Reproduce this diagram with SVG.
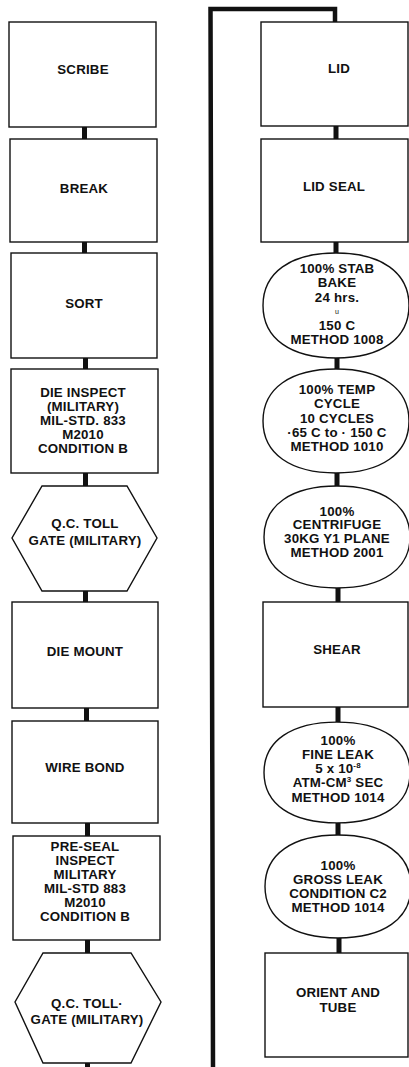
<svg xmlns="http://www.w3.org/2000/svg" width="409" height="1067" viewBox="0 0 409 1067">
<style>
.box{fill:#fff;stroke:#111;stroke-width:1.4}
.bar{fill:#111}
text{font-family:"Liberation Sans",Arial,sans-serif;font-weight:bold;font-size:13.3px;text-anchor:middle;fill:#111;letter-spacing:0.2px}
.tiny{font-size:7px;font-weight:normal}
.sup{font-size:8px}
</style>
<defs>
<path id="oval" d="M -73,0 C -73,-32.8 -45.3,-52 0,-52 C 45.3,-52 73,-32.8 73,0 C 73,32.8 45.3,52 0,52 C -45.3,52 -73,32.8 -73,0 Z"/>
</defs>
<rect width="409" height="1067" fill="#fff"/>
<g id="connectors">
<rect class="bar" x="82" y="127" width="5" height="12"/>
<rect class="bar" x="82" y="242" width="5" height="11"/>
<rect class="bar" x="83" y="358" width="5" height="11"/>
<rect class="bar" x="83" y="473" width="5" height="13"/>
<rect class="bar" x="83" y="591" width="5" height="11"/>
<rect class="bar" x="84" y="708" width="5" height="13"/>
<rect class="bar" x="85" y="823" width="5" height="13"/>
<rect class="bar" x="85" y="940" width="5" height="13"/>
<rect class="bar" x="85" y="1062" width="5" height="6"/>
<path d="M 213,1067 L 210.5,9 L 335,9 L 335,22" fill="none" stroke="#111" stroke-width="4.5"/>
<rect class="bar" x="333.5" y="126" width="5" height="13"/>
<rect class="bar" x="333.5" y="242" width="5" height="11"/>
<rect class="bar" x="334.5" y="358" width="5" height="11"/>
<rect class="bar" x="334.5" y="473" width="5" height="13"/>
<rect class="bar" x="335.5" y="588" width="5" height="14"/>
<rect class="bar" x="335.5" y="707" width="5" height="15"/>
<rect class="bar" x="335.5" y="823" width="5" height="12"/>
<rect class="bar" x="336.5" y="938" width="5" height="15"/>
</g>
<g id="scribe"><rect class="box" x="9" y="22" width="147" height="105"/><text x="83" y="74">SCRIBE</text></g>
<g id="break"><rect class="box" x="10" y="139" width="147" height="103"/><text x="84" y="193">BREAK</text></g>
<g id="sort"><rect class="box" x="11" y="253" width="146" height="105"/><text x="84" y="308">SORT</text></g>
<g id="die-inspect"><rect class="box" x="11" y="369" width="147" height="104"/>
<text x="83" y="397">DIE INSPECT</text><text x="83" y="411">(MILITARY)</text><text x="83" y="425">MIL-STD. 833</text><text x="83" y="439">M2010</text><text x="83" y="453">CONDITION B</text></g>
<g id="qc-toll-gate-1"><polygon class="box" points="42,486 127,486 157,538 127,591 42,591 12,538"/>
<text x="85" y="528">Q.C. TOLL</text><text x="85" y="545">GATE (MILITARY)</text></g>
<g id="die-mount"><rect class="box" x="12" y="602" width="146" height="106"/><text x="85" y="656">DIE MOUNT</text></g>
<g id="wire-bond"><rect class="box" x="12" y="721" width="146" height="102"/><text x="85" y="772">WIRE BOND</text></g>
<g id="pre-seal"><rect class="box" x="13" y="836" width="147" height="104"/>
<text x="85" y="851">PRE-SEAL</text><text x="85" y="865">INSPECT</text><text x="85" y="879">MILITARY</text><text x="85" y="893">MIL-STD 883</text><text x="85" y="907">M2010</text><text x="85" y="921">CONDITION B</text></g>
<g id="qc-toll-gate-2"><polygon class="box" points="43,953 131,953 161,1002 131,1063 43,1063 15,1002"/>
<text x="87" y="1008">Q.C. TOLL·</text><text x="87" y="1024">GATE (MILITARY)</text></g>
<g id="lid"><rect class="box" x="261" y="22" width="147" height="104"/><text x="339" y="73">LID</text></g>
<g id="lid-seal"><rect class="box" x="261" y="139" width="147" height="103"/><text x="334" y="191">LID SEAL</text></g>
<g id="stab-bake"><use href="#oval" class="box" transform="translate(336,305.5) scale(1,1.01)"/>
<text x="337" y="273">100% STAB</text><text x="337" y="287">BAKE</text><text x="337" y="302">24 hrs.</text><text class="tiny" x="337" y="314">u</text><text x="337" y="330">150 C</text><text x="337" y="344">METHOD 1008</text></g>
<g id="temp-cycle"><use href="#oval" class="box" transform="translate(336,421)"/>
<text x="337" y="394">100% TEMP</text><text x="337" y="408">CYCLE</text><text x="337" y="423">10 CYCLES</text><text x="337" y="437">·65 C to · 150 C</text><text x="337" y="451">METHOD 1010</text></g>
<g id="centrifuge"><use href="#oval" class="box" transform="translate(337,537) scale(1,0.98)"/>
<text x="337" y="516">100%</text><text x="337" y="529">CENTRIFUGE</text><text x="337" y="543">30KG Y1 PLANE</text><text x="337" y="557">METHOD 2001</text></g>
<g id="shear"><rect class="box" x="263" y="602" width="145" height="105"/><text x="337" y="654">SHEAR</text></g>
<g id="fine-leak"><use href="#oval" class="box" transform="translate(337,772.5) scale(1,0.97)"/>
<text x="338" y="745">100%</text><text x="338" y="759">FINE LEAK</text><text x="338" y="773">5 x 10<tspan class="sup" dy="-5">-8</tspan></text><text x="338" y="787">ATM-CM<tspan class="sup" dy="-5">3</tspan><tspan dy="5"> SEC</tspan></text><text x="338" y="802">METHOD 1014</text></g>
<g id="gross-leak"><use href="#oval" class="box" transform="translate(338,886.5) scale(1,0.99)"/>
<text x="338" y="870">100%</text><text x="338" y="884">GROSS LEAK</text><text x="338" y="898">CONDITION C2</text><text x="338" y="912">METHOD 1014</text></g>
<g id="orient-and-tube"><rect class="box" x="265" y="953" width="143" height="104"/>
<text x="338" y="997">ORIENT AND</text><text x="338" y="1012">TUBE</text></g>
</svg>
